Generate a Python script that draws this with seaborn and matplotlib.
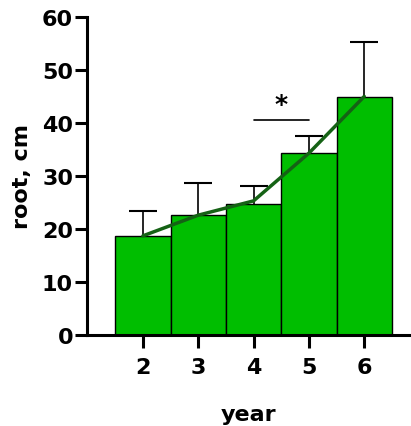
import matplotlib
matplotlib.use("Agg")
import matplotlib.pyplot as plt
import seaborn as sns
import pandas as pd

years = [2, 3, 4, 5, 6]
root_mean = [18.7, 22.6, 24.8, 34.3, 44.8]
root_upper = [23.3, 28.7, 28.1, 37.6, 55.3]
line_vals = [18.7, 22.6, 25.3, 34.3, 45.0]
sig_pair = [4, 5]
sig_y = 40.6
yticks = [0, 10, 20, 30, 40, 50, 60]

sns.set_theme(style="ticks", rc={"axes.edgecolor": "black", "text.color": "black",
                                  "axes.labelcolor": "black", "xtick.color": "black",
                                  "ytick.color": "black"})
plt.rcParams['font.family'] = ['DejaVu Sans']
plt.rcParams['font.weight'] = 'bold'

df = pd.DataFrame({"year": years, "root": root_mean})

fig = plt.figure(figsize=(4.11, 4.27), dpi=100)
ax = fig.add_axes([0.2117, 0.2131, 0.7863, 0.745])

sns.barplot(data=df, x="year", y="root", native_scale=True, width=1.0,
            color="#00BE00", saturation=1, edgecolor="black", linewidth=1.0,
            errorbar=None, ax=ax)

err = [u - m for u, m in zip(root_upper, root_mean)]
eb = ax.errorbar(years, root_mean, yerr=[[0]*len(err), err], fmt="none",
                 ecolor="black", elinewidth=1.2, capsize=10, capthick=1.5, zorder=3)
eb[1][0].set_visible(False)

sns.lineplot(x=years, y=line_vals, color="#156215", linewidth=2.5, ax=ax, zorder=4)

ax.plot(sig_pair, [sig_y, sig_y], color="black", linewidth=1.2)
ax.text(sum(sig_pair)/2, sig_y + 0.8, "*", ha="center", va="bottom",
        fontsize=18, fontweight="bold", color="black")

ax.set_xlim(0.99, 6.83)
ax.set_ylim(0, 60)
ax.set_yticks(yticks)
ax.set_xticks(years)
ax.set_xticklabels([str(y) for y in years])
sns.despine(ax=ax)
for s in ["left", "bottom"]:
    ax.spines[s].set_linewidth(2.2)
ax.tick_params(axis="both", width=2.2, length=9, labelsize=16, colors="black")
ax.tick_params(axis="x", pad=7)
ax.tick_params(axis="y", pad=1)
for lab in ax.get_xticklabels() + ax.get_yticklabels():
    lab.set_fontweight("bold")

ax.set_xlabel("year", fontsize=16, fontweight="bold", labelpad=19, color="black")
ax.set_ylabel("root, cm", fontsize=16, fontweight="bold", labelpad=7, color="black")

fig.savefig("out.png", dpi=100)
